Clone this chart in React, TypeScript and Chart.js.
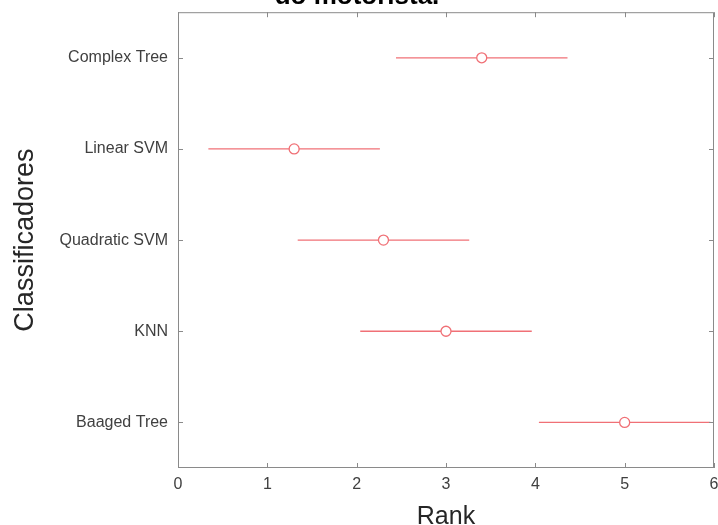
import React, { useEffect, useRef } from "react";
import { Chart, registerables } from "chart.js";

Chart.register(...registerables);

const classifiers = ["Complex Tree", "Linear SVM", "Quadratic SVM", "KNN", "Baaged Tree"];
const meanRank = [3.4, 1.3, 2.3, 3.0, 5.0];
const lowerRank = [2.44, 0.34, 1.34, 2.04, 4.04];
const upperRank = [4.36, 2.26, 3.26, 3.96, 5.96];
const rankTicks = [0, 1, 2, 3, 4, 5, 6];
const titleText = "do motorista.";

const FONT = "'Liberation Sans', Arial, Helvetica, sans-serif";
const RED = "rgb(240,112,118)";
const BOX = "#8a8a8a";

const errorBarPlugin = {
  id: "errorBars",
  beforeDatasetsDraw(chart: any) {
    const { ctx, chartArea, scales } = chart;
    const meta = chart.getDatasetMeta(0);
    ctx.save();
    ctx.beginPath();
    ctx.rect(chartArea.left, chartArea.top, chartArea.right - chartArea.left, chartArea.bottom - chartArea.top);
    ctx.clip();
    ctx.strokeStyle = RED;
    ctx.lineWidth = 1.3;
    meta.data.forEach((pt: any, i: number) => {
      const x1 = scales.x.getPixelForValue(lowerRank[i]);
      const x2 = scales.x.getPixelForValue(upperRank[i]);
      ctx.beginPath();
      ctx.moveTo(x1, pt.y);
      ctx.lineTo(x2, pt.y);
      ctx.stroke();
    });
    ctx.restore();
  },
};

const boxPlugin = {
  id: "boxTicks",
  afterDraw(chart: any) {
    const { ctx, chartArea, scales } = chart;
    const { left, right, top, bottom } = chartArea;
    const tl = 5;
    ctx.save();
    ctx.strokeStyle = BOX;
    ctx.lineWidth = 1;
    ctx.strokeRect(left + 0.5, top + 0.5, right - left - 1, bottom - top - 1);
    ctx.beginPath();
    scales.x.ticks.forEach((t: any) => {
      const px = Math.round(scales.x.getPixelForValue(t.value)) + 0.5;
      ctx.moveTo(px, bottom);
      ctx.lineTo(px, bottom - tl);
      ctx.moveTo(px, top);
      ctx.lineTo(px, top + tl);
    });
    scales.y.ticks.forEach((t: any, i: number) => {
      const py = Math.round(scales.y.getPixelForTick(i)) + 0.5;
      ctx.moveTo(left, py);
      ctx.lineTo(left + tl, py);
      ctx.moveTo(right, py);
      ctx.lineTo(right - tl, py);
    });
    ctx.stroke();
    ctx.restore();
  },
};

export default function App() {
  const ref = useRef<HTMLCanvasElement>(null);
  useEffect(() => {
    if (!ref.current) return;
    const chart = new Chart(ref.current, {
      type: "scatter",
      data: {
        labels: classifiers,
        datasets: [
          {
            data: classifiers.map((c, i) => ({ x: meanRank[i], y: c })),
            pointStyle: "circle",
            pointRadius: 5,
            pointBorderWidth: 1.3,
            borderColor: RED,
            backgroundColor: "#ffffff",
            showLine: false,
          },
        ],
      } as any,
      options: {
        responsive: false,
        animation: false,
        layout: { padding: { left: 0, right: 14, top: 0, bottom: 0 } },
        plugins: {
          legend: { display: false },
          tooltip: { enabled: false },
          title: {
            display: true,
            text: titleText,
            color: "#000000",
            font: { family: FONT, size: 26, weight: "bold", lineHeight: 1.2 },
            padding: { top: 2, bottom: 0 },
          },
        },
        scales: {
          x: {
            type: "linear",
            position: "bottom",
            min: rankTicks[0],
            max: rankTicks[rankTicks.length - 1],
            afterBuildTicks: (s: any) => {
              s.ticks = rankTicks.map((v) => ({ value: v }));
            },
            afterFit: (s: any) => {
              s.height = 64;
            },
            grid: { display: false, drawTicks: false },
            border: { display: false },
            ticks: {
              padding: 7,
              color: "#404040",
              font: { family: FONT, size: 16 },
              maxRotation: 0,
            },
            title: {
              display: true,
              text: "Rank",
              color: "#262626",
              font: { family: FONT, size: 25, lineHeight: 1.2 },
              padding: { top: 0, bottom: 0 },
            },
          },
          y: {
            type: "category",
            labels: classifiers,
            offset: true,
            afterFit: (s: any) => {
              s.width = 178;
            },
            grid: { display: false, drawTicks: false },
            border: { display: false },
            ticks: {
              padding: 10,
              color: "#404040",
              font: { family: FONT, size: 16 },
            },
            title: {
              display: true,
              text: "Classificadores",
              color: "#262626",
              font: { family: FONT, size: 27, lineHeight: 1.2 },
              padding: { top: 9, bottom: 0 },
            },
          },
        },
      } as any,
      plugins: [errorBarPlugin, boxPlugin],
    });
    return () => chart.destroy();
  }, []);

  return (
    <div
      style={{
        position: "fixed",
        left: 0,
        top: 0,
        width: 718,
        height: 525,
        overflow: "hidden",
        background: "#ffffff",
      }}
    >
      <canvas
        ref={ref}
        width={728}
        height={553}
        style={{ position: "absolute", left: 0, top: -21, width: 728, height: 553 }}
      />
    </div>
  );
}
